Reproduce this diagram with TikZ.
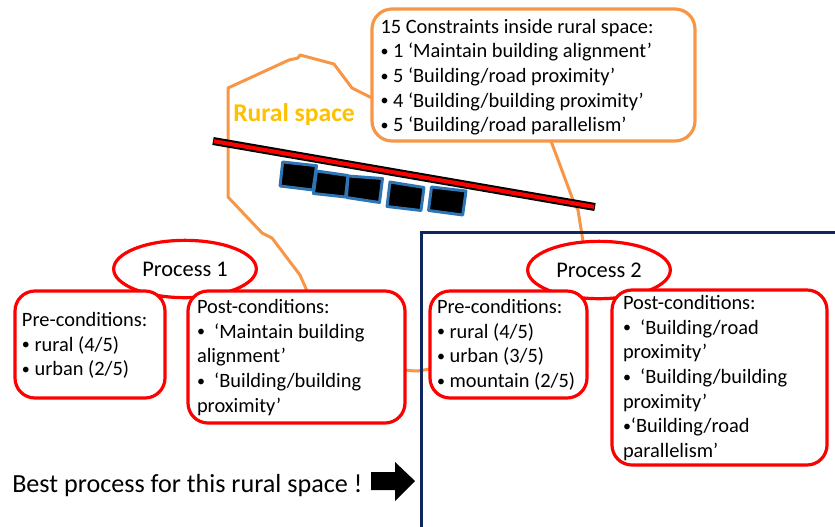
\documentclass[tikz,border=0pt]{standalone}
\usepackage{fontspec}
\setmainfont{Carlito}
\usetikzlibrary{backgrounds,calc,shapes.geometric}
\definecolor{orangeline}{HTML}{F79646}
\definecolor{navyline}{HTML}{10265F}
\definecolor{ruralgold}{HTML}{FFC000}
\definecolor{bldgblue}{HTML}{2E75B6}
\newlength{\bxw}\newlength{\bxh}\newlength{\bxi}\newlength{\bxb}
\newcommand{\bul}{\raisebox{0.06em}{\fontsize{12}{12}\selectfont •}}
% box text: width px, height px, left inset px, first baseline px, lines
\newcommand{\boxtext}[5]{%
  \setlength{\bxw}{#1pt}\setlength{\bxw}{0.75\bxw}%
  \setlength{\bxh}{#2pt}\setlength{\bxh}{0.75\bxh}%
  \setlength{\bxi}{#3pt}\setlength{\bxi}{0.75\bxi}%
  \setlength{\bxb}{#4pt}\setlength{\bxb}{0.75\bxb}%
  \parbox[c][\bxh][t]{\bxw}{\fontsize{15.3}{18.5}\selectfont\leftskip=\bxi\rightskip=0pt plus 1fil\parindent=0pt\parskip=0pt%
  \vspace*{\dimexpr\bxb-\ht\strutbox\relax}\strut #5\par}}
\tikzset{
  px/.style={x=0.75pt,y=-0.75pt},
  condbox/.style={draw=red,line width=2.4pt,fill=white,rounded corners=15pt,inner sep=0pt,outer sep=0pt,anchor=north west},
  infobox/.style={condbox,draw=orangeline,fill=white},
  procell/.style={draw=red,line width=2.4pt,fill=white,ellipse,inner sep=0pt,outer sep=0pt,minimum width=107pt,minimum height=43pt,font=\fontsize{16.8}{18}\selectfont},
  link/.style={draw=orangeline,line width=2.25pt,line join=round},
  bldg/.style={fill=black,draw=bldgblue,line width=2.2pt,line join=round},
}
\begin{document}
\begin{tikzpicture}[px]
\useasboundingbox (0,0) rectangle (835,526);
% process ellipses
\node[procell] (proc1) at (185,269) {Process 1};
\node[procell] (proc2) at (599,270) {Process 2};
% condition boxes
\node[infobox] (cons) at (372,9) {\boxtext{323}{132}{8.5}{24}{15 Constraints inside rural space:\\\bul\ 1 ‘Maintain building alignment’\\\bul\ 5 ‘Building/road proximity’\\\bul\ 4 ‘Building/building proximity’\\\bul\ 5 ‘Building/road parallelism’}};
\node[condbox] (pre1) at (15,291) {\boxtext{150}{107}{7}{35.5}{Pre-conditions:\\\bul\ rural (4/5)\\\bul\ urban (2/5)}};
\node[condbox] (post1) at (188,291) {\boxtext{217}{132}{9}{22.5}{Post-conditions:\\\bul\ \ ‘Maintain building\\alignment’\\\bul\ \ ‘Building/building\\proximity’}};
\node[condbox] (pre2) at (430,291) {\boxtext{157}{107}{7}{22.5}{Pre-conditions:\\\bul\ rural (4/5)\\\bul\ urban (3/5)\\\bul\ mountain (2/5)}};
\node[condbox] (post2) at (612,290) {\boxtext{215}{175}{11}{19.5}{Post-conditions:\\\bul\ \ ‘Building/road\\proximity’\\\bul\ \ ‘Building/building\\proximity’\\\bul‘Building/road\\parallelism’}};
% rural space
\node[anchor=base west,inner sep=0pt,text=ruralgold,font=\fontsize{19.2}{22}\bfseries\selectfont] (rural) at (233,121) {Rural space};
\node[anchor=base west,inner sep=0pt,font=\fontsize{19.6}{22}\selectfont] (best) at (12,492) {Best process for this rural space !};
% orange outlines
\begin{scope}[on background layer]
\draw[link] (cons.west |- 0,98) -- (352,88) -- (334,64) -- (300,55) -- (298,58) -- (289,60) -- (228,88) -- (228,197) -- (262,233) -- (272,238) -- (300,275) -- (post1.north -| 307,0);
\draw[link] (post1.east |- 0,370) to[out=-5,in=180] (418,371) -- (pre2.west |- 0,369);
\draw[link] (cons.south -| 551,0) -- (573,200) -- (578,210) -- (proc2.north -| 583,0);
\end{scope}
% frame of the selected process
\draw[navyline,line width=2.25pt] (836,232) -- (421,232) -- (421,527);
% road
\draw[black,line width=6pt] (213,141) -- (595,207);
\draw[red,line width=3pt] (214,141.2) -- (594,206.8);
% buildings
\draw[bldg] (282.7,162) -- (316.5,165.7) -- (313,190) -- (280,186) -- cycle;
\draw[bldg] (316.5,171) -- (348,175.5) -- (345.5,197) -- (313.5,193.5) -- cycle;
\draw[bldg] (348,176) -- (382.5,178.5) -- (379.5,202.5) -- (346.5,197.5) -- cycle;
\draw[bldg] (390,182) -- (424,187.5) -- (421,210.5) -- (387,206.5) -- cycle;
\draw[bldg] (431.5,187) -- (466,191) -- (462.7,215) -- (428.5,210.5) -- cycle;
% arrow
\fill[black] (371,472) -- (395,472) -- (395,462) -- (415,481) -- (395,501) -- (395,490) -- (371,490) -- cycle;
\end{tikzpicture}
\end{document}
